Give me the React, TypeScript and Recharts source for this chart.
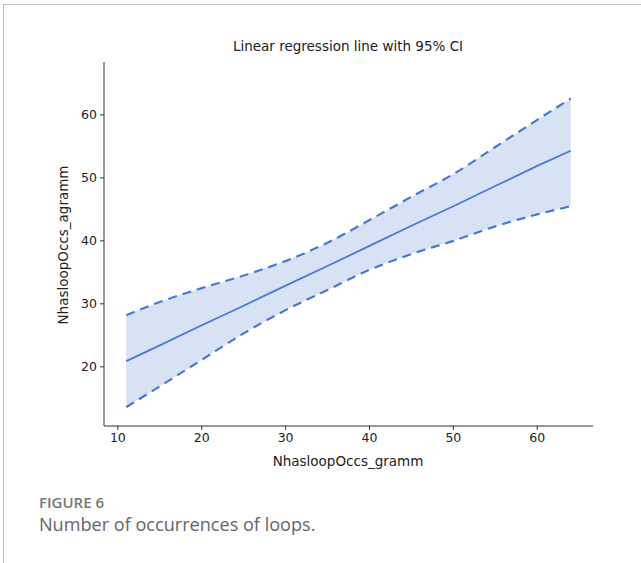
import { ComposedChart, Area, Line, XAxis, YAxis } from 'recharts';

// values
const xValues = [11, 15, 20, 25, 30, 35, 40, 45, 50, 55, 60, 64];
const fitLine = [20.9, 23.4, 26.6, 29.7, 32.9, 36.0, 39.2, 42.4, 45.5, 48.7, 51.9, 54.3];
const ciUpper = [28.2, 30.3, 32.5, 34.5, 36.8, 39.7, 43.3, 47.0, 50.6, 54.9, 59.2, 62.6];
const ciLower = [13.6, 16.9, 21.1, 25.3, 29.0, 32.2, 35.4, 37.9, 40.0, 42.3, 44.2, 45.5];

const xTicks = [10, 20, 30, 40, 50, 60];
const yTicks = [20, 30, 40, 50, 60];

const BLUE = '#4878cf';
const AXIS = '#333';
const FONT = '"DejaVu Sans", sans-serif';

const data = xValues.map((x, i) => ({
  x,
  fit: fitLine[i],
  upper: ciUpper[i],
  lower: ciLower[i],
  band: [ciLower[i], ciUpper[i]],
}));

export default function App() {
  return (
    <div
      style={{
        position: 'absolute',
        left: 0,
        top: 0,
        width: 641,
        height: 563,
        background: '#fff',
        overflow: 'hidden',
        fontFamily: FONT,
      }}
    >
      {/* frame lines of the figure panel */}
      <div style={{ position: 'absolute', left: 3, top: 4, right: 0, height: 1, background: '#bdbdbd' }} />
      <div style={{ position: 'absolute', left: 3, top: 4, bottom: 0, width: 1, background: '#bdbdbd' }} />

      <ComposedChart
        width={641}
        height={563}
        data={data}
        margin={{ top: 62, right: 48, bottom: 107, left: 44 }}
        style={{ position: 'absolute', left: 0, top: 0 }}
      >
        <XAxis
          dataKey="x"
          type="number"
          domain={[8.35, 66.65]}
          ticks={xTicks}
          height={30}
          allowDataOverflow
          stroke={AXIS}
          tickSize={4}
          tickMargin={3}
          tick={{ fontSize: 12.5, fill: '#222', fontFamily: FONT }}
        />
        <YAxis
          type="number"
          domain={[10.6, 68.4]}
          ticks={yTicks}
          width={60}
          allowDataOverflow
          stroke={AXIS}
          tickSize={4}
          tickMargin={3}
          tick={{ fontSize: 12.5, fill: '#222', fontFamily: FONT }}
        />
        <Area
          dataKey="band"
          type="monotone"
          stroke="none"
          fill={BLUE}
          fillOpacity={0.21}
          isAnimationActive={false}
        />
        <Line
          dataKey="upper"
          type="monotone"
          stroke={BLUE}
          strokeWidth={2.2}
          strokeDasharray="9 6"
          dot={false}
          isAnimationActive={false}
        />
        <Line
          dataKey="lower"
          type="monotone"
          stroke={BLUE}
          strokeWidth={2.2}
          strokeDasharray="9 6"
          dot={false}
          isAnimationActive={false}
        />
        <Line
          dataKey="fit"
          type="linear"
          stroke={BLUE}
          strokeWidth={1.8}
          dot={false}
          isAnimationActive={false}
        />
      </ComposedChart>

      <div
        style={{
          position: 'absolute',
          left: 148,
          width: 400,
          top: 38,
          textAlign: 'center',
          fontSize: 13.5,
          color: '#222',
        }}
      >
        Linear regression line with 95% CI
      </div>
      <div
        style={{
          position: 'absolute',
          left: 148,
          width: 400,
          top: 453,
          textAlign: 'center',
          fontSize: 13.5,
          color: '#222',
        }}
      >
        NhasloopOccs_gramm
      </div>
      <div
        style={{
          position: 'absolute',
          left: 63 - 100,
          top: 245 - 9,
          width: 200,
          height: 18,
          lineHeight: '18px',
          textAlign: 'center',
          fontSize: 13.5,
          color: '#222',
          transform: 'rotate(-90deg)',
        }}
      >
        NhasloopOccs_agramm
      </div>

      <div
        style={{
          position: 'absolute',
          left: 39,
          top: 492,
          fontFamily: '"Open Sans", sans-serif',
          fontSize: 15,
          fontWeight: 600,
          color: '#777',
        }}
      >
        FIGURE 6
      </div>
      <div
        style={{
          position: 'absolute',
          left: 39,
          top: 512,
          fontFamily: '"Open Sans", sans-serif',
          fontSize: 18.1,
          fontWeight: 400,
          color: '#666',
        }}
      >
        Number of occurrences of loops.
      </div>
    </div>
  );
}
